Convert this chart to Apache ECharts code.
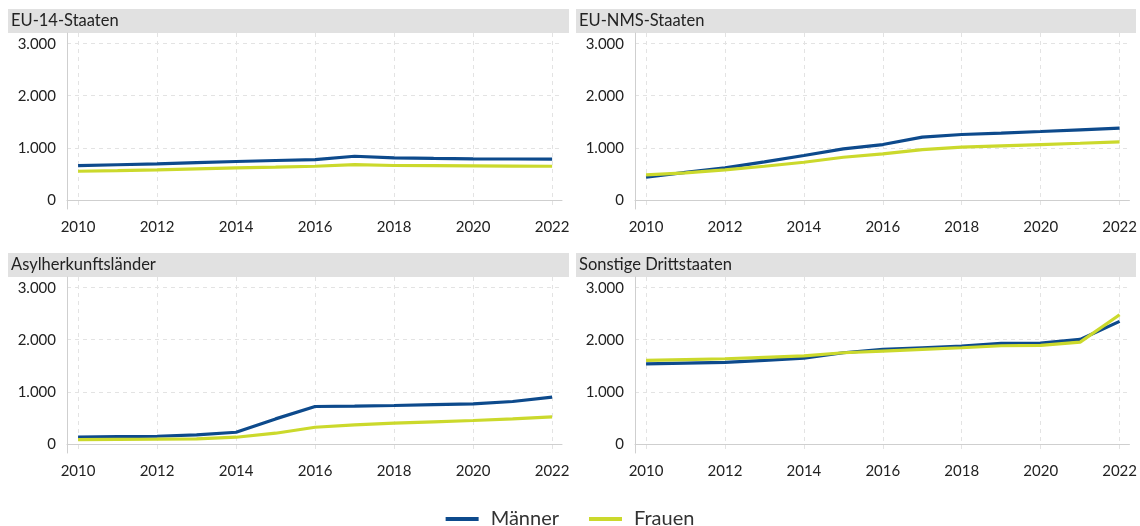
<!DOCTYPE html>
<html>
<head>
<meta charset="utf-8">
<script src="https://cdn.jsdelivr.net/npm/echarts@6/dist/echarts.min.js"></script>
<style>
html,body{margin:0;padding:0;background:#fff;}
#c{width:1140px;height:526px;}
</style>
</head>
<body>
<div id="c"></div>
<script>
// ---- data ----
const years = [2010,2011,2012,2013,2014,2015,2016,2017,2018,2019,2020,2021,2022];
const xTicks = [2010,2012,2014,2016,2018,2020,2022];
const yTicks = [0,1000,2000,3000];
const panelTitles = ['EU-14-Staaten','EU-NMS-Staaten','Asylherkunftsländer','Sonstige Drittstaaten'];
const seriesNames = ['Männer','Frauen'];

const eu14Maenner = [658,675,692,715,737,756,775,838,807,797,788,785,781];
const eu14Frauen  = [550,563,577,596,615,630,646,679,660,657,654,650,646];

const nmsMaenner = [435,530,615,730,852,980,1063,1204,1256,1282,1313,1346,1378];
const nmsFrauen  = [480,519,577,646,723,819,885,967,1012,1038,1063,1088,1115];

const asylMaenner = [128,138,147,173,224,480,718,727,737,753,769,814,897];
const asylFrauen  = [83,87,90,96,128,205,320,365,397,423,449,480,519];

const sonstMaenner = [1538,1551,1564,1603,1647,1750,1814,1846,1878,1930,1936,2006,2353];
const sonstFrauen  = [1603,1619,1635,1663,1692,1750,1782,1814,1846,1885,1891,1955,2481];

const panelData = [
  [eu14Maenner, eu14Frauen],
  [nmsMaenner, nmsFrauen],
  [asylMaenner, asylFrauen],
  [sonstMaenner, sonstFrauen]
];

// ---- styles / layout ----
const FONT = 'Lato';
const colors = ['#0d4a8c', '#cbd92c'];
const grids = [
  {left: 67,  top: 33,  width: 495, height: 176},
  {left: 635, top: 33,  width: 495, height: 176},
  {left: 67,  top: 277, width: 495, height: 176},
  {left: 635, top: 277, width: 495, height: 176}
];
const headers = [
  {x: 8,   y: 9,   w: 561},
  {x: 576, y: 9,   w: 560},
  {x: 8,   y: 253, w: 561},
  {x: 576, y: 253, w: 560}
];

function fmt(v){
  return String(v).replace(/\B(?=(\d{3})+(?!\d))/g, '.');
}

const xAxes = [], yAxes = [], series = [], graphics = [];
grids.forEach((g, i) => {
  xAxes.push({
    gridIndex: i, type: 'value', min: 2009.72, max: 2022.25,
    axisLine: {show: true, lineStyle: {color: '#cfcfcf', width: 1}},
    axisTick: {show: false, customValues: xTicks},
    axisLabel: {customValues: xTicks, color: '#222', fontFamily: FONT, fontSize: 15, margin: 11,
                formatter: v => String(v)},
    splitLine: {show: true, lineStyle: {color: '#e3e3e3', type: [4,4], width: 1}}
  });
  yAxes.push({
    gridIndex: i, type: 'value', min: -175, max: 3205,
    axisLine: {show: true, lineStyle: {color: '#cfcfcf', width: 1}},
    axisTick: {show: false, customValues: yTicks},
    axisLabel: {customValues: yTicks, color: '#222', fontFamily: FONT, fontSize: 15, margin: 11,
                formatter: v => fmt(v)},
    splitLine: {show: true, lineStyle: {color: '#e3e3e3', type: [4,4], width: 1}}
  });
  panelData[i].forEach((arr, k) => {
    series.push({
      name: seriesNames[k], type: 'line', xAxisIndex: i, yAxisIndex: i,
      data: years.map((y, j) => [y, arr[j]]),
      symbol: 'none', smooth: false,
      lineStyle: {color: colors[k], width: 3.2},
      itemStyle: {color: colors[k]}
    });
  });
  const h = headers[i];
  graphics.push({
    type: 'rect', left: h.x, top: h.y, shape: {width: h.w, height: 24},
    style: {fill: '#e1e1e1'}, silent: true
  });
  graphics.push({
    type: 'text', left: h.x + 3, top: h.y + 3,
    style: {text: panelTitles[i], fill: '#222', font: '16.5px ' + FONT}
  });
});

const chart = echarts.init(document.getElementById('c'), null, {renderer: 'canvas'});
chart.setOption({
  animation: false,
  backgroundColor: '#fff',
  grid: grids.map(g => Object.assign({containLabel: false}, g)),
  xAxis: xAxes,
  yAxis: yAxes,
  series: series,
  graphic: graphics,
  legend: {
    data: seriesNames, top: 504, left: 'center', itemWidth: 33, itemHeight: 24, itemGap: 30,
    textStyle: {fontFamily: FONT, fontSize: 20, color: '#333', padding: [0, 0, 0, 7]},
    icon: 'path://M0,10 L33,10 L33,14 L0,14 Z'
  }
});
</script>
</body>
</html>
